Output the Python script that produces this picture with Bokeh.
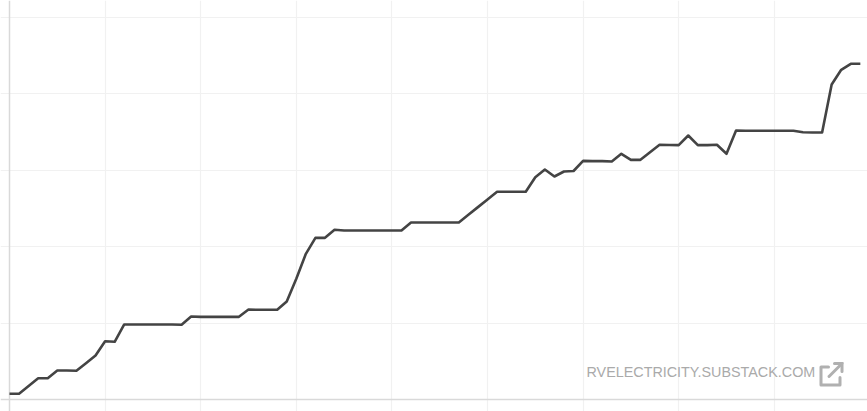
from bokeh.plotting import figure
from bokeh.embed import file_html
from bokeh.resources import INLINE
from bokeh.models import Range1d, FixedTicker, Grid
from bokeh.core.properties import value

# Series (index = time step, value = height in axis units)
steps = list(range(90))
values = [
    7.5, 7.5, 17.7, 27.9, 27.9, 38.0, 38.0, 37.6, 47.5, 57.6,
    76.3, 75.5, 98.2, 98.2, 98.2, 98.2, 98.2, 98.2, 97.8, 108.6,
    108.2, 108.2, 108.2, 108.2, 108.2, 117.8, 117.4, 117.4, 117.4, 128.3,
    158.0, 190.7, 211.6, 211.6, 222.1, 221.2, 221.2, 221.2, 221.2, 221.2,
    221.2, 221.2, 231.7, 231.7, 231.7, 231.7, 231.7, 231.7, 241.8, 251.8,
    261.8, 271.9, 271.9, 271.9, 271.9, 291.0, 301.0, 291.9, 298.4, 299.1,
    312.4, 312.0, 312.0, 311.5, 321.6, 313.7, 313.7, 323.6, 333.4, 333.1,
    332.9, 345.5, 332.9, 333.0, 333.4, 321.6, 352.1, 351.7, 351.7, 351.7,
    351.7, 351.7, 351.7, 349.9, 349.5, 349.5, 412.3, 431.5, 439.4, 439.4,
]
x_ticks = [0, 10, 20, 30, 40, 50, 60, 70, 80, 90]
y_ticks = [0, 100, 200, 300, 400, 500]
source_label = "RVELECTRICITY.SUBSTACK.COM"

W, H = 867, 411
X_PER_PX = 1 / 9.56
Y_PER_PX = 1 / 0.764
X0_PX, Y0_PX = 9.0, 399.0

def dx(px):
    return (px - X0_PX) * X_PER_PX

def dy(py):
    return (Y0_PX - py) * Y_PER_PX

p = figure(
    width=W, height=H, output_backend="svg", toolbar_location=None,
    x_range=Range1d(dx(0), dx(W)), y_range=Range1d(dy(H), dy(0)),
    min_border=0, outline_line_color=None,
    background_fill_color="white", border_fill_color="white",
)
p.xaxis.visible = False
p.yaxis.visible = False
p.grid.visible = False

GRID = "#f1f1f1"
AXIS = "#d9d9d9"
p.add_layout(Grid(dimension=0, ticker=FixedTicker(ticks=x_ticks[1:-1]), grid_line_color=GRID,
                  grid_line_width=1.2, bounds=(dy(H), dy(17))))
p.add_layout(Grid(dimension=1, ticker=FixedTicker(ticks=y_ticks[1:]), grid_line_color=GRID,
                  grid_line_width=1.2, bounds=(dx(0), dx(861))))
p.add_layout(Grid(dimension=0, ticker=FixedTicker(ticks=[x_ticks[0]]), grid_line_color=AXIS,
                  grid_line_width=1.5, bounds=(dy(H), dy(17))))
p.add_layout(Grid(dimension=1, ticker=FixedTicker(ticks=[y_ticks[0]]), grid_line_color=AXIS,
                  grid_line_width=1.5, bounds=(dx(0), dx(861))))

p.line(steps, values, line_color="#444444", line_width=2.6, line_join="round")

p.text([dx(586)], [dy(371.5)], text=[source_label], text_font=value("Liberation Sans"),
       text_font_size="14.35px", text_color="#aaaaaa", text_align="left", text_baseline="middle")

GREY = "#b0b0b0"
box_x = [828, 820.5, 820.5, 839.5, 839.5]
box_y = [366.5, 366.5, 384.5, 384.5, 377]
p.line([dx(v) for v in box_x], [dy(v) for v in box_y], line_color=GREY, line_width=3,
       line_join="round", line_cap="round")
p.line([dx(828.5), dx(841.5)], [dy(376), dy(363)], line_color=GREY, line_width=3, line_cap="round")
p.line([dx(834), dx(841.5), dx(841.5)], [dy(363), dy(363), dy(371)], line_color=GREY,
       line_width=3, line_join="miter", line_cap="round")

open("out.html", "w").write(file_html(p, INLINE))
